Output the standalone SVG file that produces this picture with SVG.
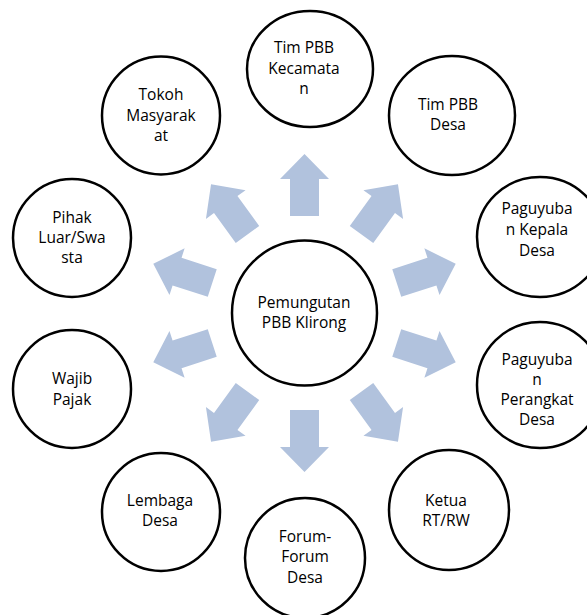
<svg xmlns="http://www.w3.org/2000/svg" xmlns:xlink="http://www.w3.org/1999/xlink" width="587" height="615" viewBox="0 0 587 615">
<style>
.node{fill:#fff;stroke:#000;stroke-width:2.5}
.lbl{font-family:"Open Sans","Liberation Sans",sans-serif;font-size:15.5px;fill:#000;text-anchor:middle}
.arr{fill:#B1C2DD}
</style>
<defs>
<polygon id="arrow" points="97,-14.5 134,-14.5 134,-24.5 159,0 134,24.5 134,14.5 97,14.5"/>
</defs>
<rect width="587" height="615" fill="#fff"/>
<g id="connectors" class="arr">
<use xlink:href="#arrow" transform="translate(304.5,313) rotate(-90)"/>
<use xlink:href="#arrow" transform="translate(304.5,313) rotate(-54)"/>
<use xlink:href="#arrow" transform="translate(304.5,313) rotate(-18)"/>
<use xlink:href="#arrow" transform="translate(304.5,313) rotate(18)"/>
<use xlink:href="#arrow" transform="translate(304.5,313) rotate(54)"/>
<use xlink:href="#arrow" transform="translate(304.5,313) rotate(90)"/>
<use xlink:href="#arrow" transform="translate(304.5,313) rotate(126)"/>
<use xlink:href="#arrow" transform="translate(304.5,313) rotate(162)"/>
<use xlink:href="#arrow" transform="translate(304.5,313) rotate(198)"/>
<use xlink:href="#arrow" transform="translate(304.5,313) rotate(234)"/>
</g>
<g id="center">
<circle class="node" cx="304.5" cy="313" r="72.5"/>
<text class="lbl"><tspan x="304" y="308">Pemungutan</tspan><tspan x="304" y="328">PBB Klirong</tspan></text>
</g>
<g id="tim-pbb-kecamatan">
<ellipse class="node" cx="310" cy="69" rx="63" ry="58"/>
<text class="lbl"><tspan x="304" y="53">Tim PBB</tspan><tspan x="304" y="74">Kecamata</tspan><tspan x="304" y="94">n</tspan></text>
</g>
<g id="tim-pbb-desa">
<ellipse class="node" cx="452" cy="115.5" rx="63" ry="59.5"/>
<text class="lbl"><tspan x="448" y="110">Tim PBB</tspan><tspan x="448" y="130">Desa</tspan></text>
</g>
<g id="paguyuban-kepala-desa">
<ellipse class="node" cx="540" cy="237" rx="63" ry="60"/>
<text class="lbl"><tspan x="537" y="214">Paguyuba</tspan><tspan x="537" y="235">n Kepala</tspan><tspan x="537" y="256">Desa</tspan></text>
</g>
<g id="paguyuban-perangkat-desa">
<ellipse class="node" cx="540" cy="385" rx="63" ry="63"/>
<text class="lbl"><tspan x="537" y="365">Paguyuba</tspan><tspan x="537" y="385">n</tspan><tspan x="537" y="405">Perangkat</tspan><tspan x="537" y="425">Desa</tspan></text>
</g>
<g id="ketua-rt-rw">
<circle class="node" cx="449" cy="510" r="60"/>
<text class="lbl"><tspan x="446" y="506">Ketua</tspan><tspan x="446" y="526">RT/RW</tspan></text>
</g>
<g id="forum-forum-desa">
<circle class="node" cx="305" cy="558" r="60"/>
<text class="lbl"><tspan x="305" y="542">Forum-</tspan><tspan x="305" y="562">Forum</tspan><tspan x="305" y="583">Desa</tspan></text>
</g>
<g id="lembaga-desa">
<circle class="node" cx="161" cy="512" r="59"/>
<text class="lbl"><tspan x="160" y="506">Lembaga</tspan><tspan x="160" y="526">Desa</tspan></text>
</g>
<g id="wajib-pajak">
<circle class="node" cx="72" cy="389" r="59"/>
<text class="lbl"><tspan x="72" y="384">Wajib</tspan><tspan x="72" y="405">Pajak</tspan></text>
</g>
<g id="pihak-luar-swasta">
<circle class="node" cx="72" cy="238" r="59"/>
<text class="lbl"><tspan x="72" y="223">Pihak</tspan><tspan x="72" y="243">Luar/Swa</tspan><tspan x="72" y="263">sta</tspan></text>
</g>
<g id="tokoh-masyarakat">
<circle class="node" cx="161" cy="115.5" r="59"/>
<text class="lbl"><tspan x="161" y="100">Tokoh</tspan><tspan x="161" y="121">Masyarak</tspan><tspan x="161" y="141">at</tspan></text>
</g>
</svg>
